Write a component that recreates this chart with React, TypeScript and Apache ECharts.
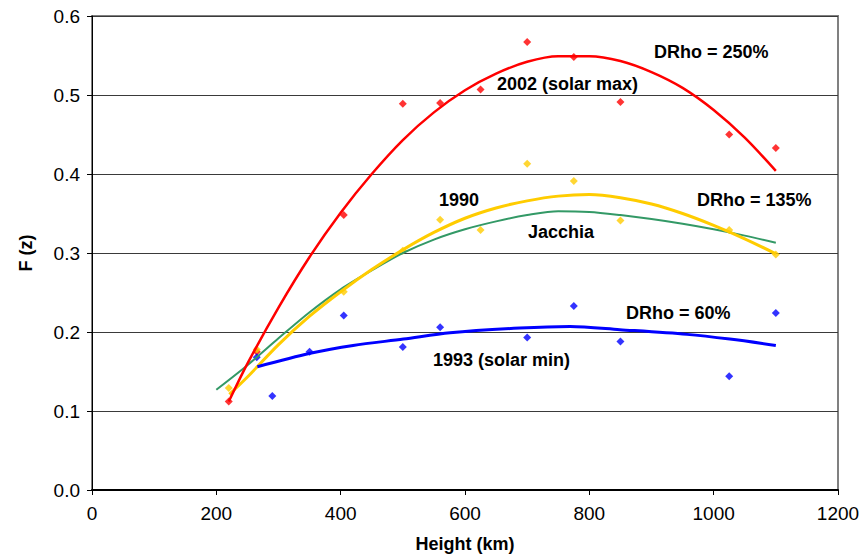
import React, { useEffect, useRef } from "react";
import * as echarts from "echarts";

// Measured points
const solarMaxX = [220, 265, 405, 500, 560, 625, 700, 775, 850, 1025, 1100];
const solarMaxY = [0.112, 0.175, 0.348, 0.489, 0.49, 0.507, 0.567, 0.548, 0.491, 0.45, 0.433];

const y1990X = [220, 265, 405, 500, 560, 625, 700, 775, 850, 1025, 1100];
const y1990Y = [0.129, 0.178, 0.251, 0.303, 0.342, 0.329, 0.413, 0.391, 0.341, 0.329, 0.298];

const solarMinX = [265, 290, 350, 405, 500, 560, 700, 775, 850, 1025, 1100];
const solarMinY = [0.168, 0.119, 0.175, 0.221, 0.181, 0.206, 0.193, 0.233, 0.188, 0.144, 0.224];

// Trend curves
const fitMaxX = [220, 250, 300, 350, 400, 450, 500, 550, 600, 650, 700, 750, 800, 850, 900, 950, 1000, 1050, 1100];
const fitMaxY = [0.112, 0.16, 0.231, 0.295, 0.351, 0.4, 0.443, 0.478, 0.506, 0.527, 0.542, 0.549, 0.549, 0.543, 0.529, 0.509, 0.481, 0.446, 0.404];

const fit1990X = [221, 250, 300, 350, 400, 450, 500, 550, 600, 650, 700, 750, 800, 850, 900, 950, 1000, 1050, 1100];
const fit1990Y = [0.121, 0.143, 0.184, 0.22, 0.251, 0.279, 0.304, 0.326, 0.344, 0.357, 0.366, 0.372, 0.374, 0.37, 0.362, 0.35, 0.335, 0.318, 0.299];

const fitMinX = [266, 351, 420, 501, 576, 688, 769, 849, 957, 1026, 1100];
const fitMinY = [0.156, 0.173, 0.183, 0.191, 0.199, 0.205, 0.207, 0.203, 0.197, 0.191, 0.183];

const jacchiaX = [200, 250, 300, 350, 400, 450, 500, 550, 600, 650, 700, 750, 800, 850, 900, 950, 1000, 1050, 1100];
const jacchiaY = [0.127, 0.158, 0.192, 0.225, 0.254, 0.278, 0.3, 0.317, 0.33, 0.34, 0.348, 0.353, 0.352, 0.348, 0.343, 0.337, 0.33, 0.322, 0.313];

const xTicks = { min: 0, max: 1200, interval: 200 };
const yTicks = { min: 0, max: 0.6, interval: 0.1 };

const FONT = '"Liberation Sans", Arial, sans-serif';

const pairs = (xs: number[], ys: number[]) => xs.map((x, i) => [x, ys[i]]);

export default function App() {
  const ref = useRef<HTMLDivElement>(null);
  useEffect(() => {
    if (!ref.current) return;
    const chart = echarts.init(ref.current, undefined, { renderer: "svg" });
    const label = (text: string, x: number, y: number) => ({
      type: "text",
      x,
      y,
      style: {
        text,
        font: `bold 18px ${FONT}`,
        fill: "#000",
        verticalAlign: "middle",
      },
      z: 100,
    });
    const scatter = (xs: number[], ys: number[], color: string) => ({
      type: "scatter",
      data: pairs(xs, ys),
      symbol: "diamond",
      symbolSize: 8,
      itemStyle: { color },
      z: 3,
    });
    const line = (xs: number[], ys: number[], color: string, width: number) => ({
      type: "line",
      data: pairs(xs, ys),
      showSymbol: false,
      symbol: "none",
      smooth: 0.3,
      lineStyle: { color, width },
      z: 4,
    });
    chart.setOption({
      animation: false,
      backgroundColor: "#fff",
      textStyle: { fontFamily: FONT },
      grid: {
        left: 92,
        top: 16,
        width: 746,
        height: 474,
        show: true,
        borderColor: "#808080",
        borderWidth: 2,
        backgroundColor: "transparent",
      },
      xAxis: {
        type: "value",
        ...xTicks,
        name: "Height (km)",
        nameLocation: "middle",
        nameGap: 45,
        nameTextStyle: { fontWeight: "bold", fontSize: 18, color: "#000", fontFamily: FONT },
        axisLine: { show: true, lineStyle: { color: "#000", width: 2 } },
        axisTick: { show: true, length: 5, lineStyle: { color: "#000" } },
        axisLabel: {
          fontSize: 19,
          color: "#000",
          margin: 14,
          fontFamily: FONT,
          formatter: (v: number) => String(v),
        },
        splitLine: { show: false },
      },
      yAxis: {
        type: "value",
        ...yTicks,
        name: "F (z)",
        nameLocation: "middle",
        nameGap: 57,
        nameTextStyle: { fontWeight: "bold", fontSize: 18, color: "#000", fontFamily: FONT },
        axisLine: { show: true, lineStyle: { color: "#000", width: 1 } },
        axisTick: { show: true, length: 5, lineStyle: { color: "#000" } },
        axisLabel: {
          fontSize: 19,
          color: "#000",
          margin: 12,
          fontFamily: FONT,
          formatter: (v: number) => v.toFixed(1),
        },
        splitLine: { show: true, lineStyle: { color: "#3a3a3a", width: 1 } },
      },
      series: [
        scatter(solarMaxX, solarMaxY, "#FF0000"),
        scatter(y1990X, y1990Y, "#FFCC00"),
        scatter(solarMinX, solarMinY, "#0000FF"),
        line(jacchiaX, jacchiaY, "#339966", 2),
        line(fit1990X, fit1990Y, "#FFCC00", 3),
        line(fitMinX, fitMinY, "#0000FF", 3),
        line(fitMaxX, fitMaxY, "#FF0000", 2.5),
      ],
      graphic: [
        label("DRho = 250%", 654, 52),
        label("2002 (solar max)", 497, 84),
        label("1990", 439, 200),
        label("DRho = 135%", 697, 200),
        label("Jacchia", 528, 232),
        label("DRho = 60%", 626, 313),
        label("1993 (solar min)", 433, 360),
      ],
    });
    return () => chart.dispose();
  }, []);
  return (
    <div
      ref={ref}
      style={{ position: "fixed", left: 0, top: 0, width: 864, height: 559, background: "#fff" }}
    />
  );
}
